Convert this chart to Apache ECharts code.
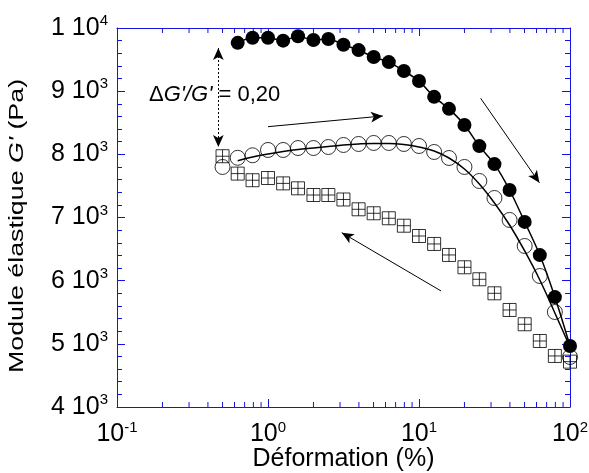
<!DOCTYPE html>
<html>
<head>
<meta charset="utf-8">
<script src="https://cdn.jsdelivr.net/npm/echarts@6/dist/echarts.min.js"></script>
<style>
  html, body { margin: 0; padding: 0; background: #fff; }
  #chart { width: 589px; height: 473px; }
</style>
</head>
<body>
<div id="chart"></div>
<script>
    'use strict';

    var BLUE = '#1414e0';
    var FONT = 'Liberation Sans';

    // déformation (%) - cercles pleins (aller, 1er balayage)
    var filledX = [0.63, 0.79, 1.0, 1.26, 1.58, 2.0, 2.51, 3.16, 3.98, 5.01, 6.31, 7.94, 10, 12.6, 15.8, 20, 25.1, 31.6, 39.8, 50.1, 63.1, 79.4, 100];
    var filledY = [9765, 9845, 9845, 9800, 9870, 9810, 9825, 9735, 9650, 9540, 9460, 9320, 9160, 8910, 8720, 8465, 8130, 7845, 7435, 6930, 6405, 5740, 4965];

    // cercles vides
    var openX = [0.5, 0.63, 0.79, 1.0, 1.26, 1.58, 2.0, 2.51, 3.16, 3.98, 5.01, 6.31, 7.94, 10, 12.6, 15.8, 20, 25.1, 31.6, 39.8, 50.1, 63.1, 79.4, 100];
    var openY = [7800, 7945, 7985, 8069, 8069, 8100, 8100, 8116, 8148, 8164, 8180, 8180, 8164, 8132, 8037, 7942, 7800, 7578, 7309, 6961, 6549, 6074, 5504, 4792];

    // courbe lissée des cercles vides
    var fitX = [0.63, 0.79, 1.0, 1.26, 1.58, 2.0, 2.51, 3.16, 3.98, 5.01, 6.31, 7.94, 10, 12.6, 15.8, 20, 25.1, 31.6, 39.8, 50.1, 63.1, 79.4, 100];
    var fitY = [7899, 7958, 8005, 8045, 8077, 8100, 8124, 8148, 8164, 8172, 8172, 8156, 8116, 8053, 7942, 7768, 7530, 7230, 6881, 6470, 6011, 5489, 4950];

    // carrés (retour)
    var squareX = [0.5, 0.63, 0.79, 1.0, 1.26, 1.58, 2.0, 2.51, 3.16, 3.98, 5.01, 6.31, 7.94, 10, 12.6, 15.8, 20, 25.1, 31.6, 39.8, 50.1, 63.1, 79.4, 100];
    var squareY = [7970, 7695, 7590, 7625, 7540, 7462, 7356, 7356, 7285, 7130, 7067, 6988, 6870, 6707, 6581, 6407, 6212, 6022, 5800, 5536, 5310, 5045, 4808, 4718];

    var xTicks = [0.1, 1, 10, 100];

    function zip(xs, ys) {
        return xs.map(function (x, i) { return [x, ys[i]]; });
    }

    // graduations secondaires log (2..9 par décade)
    var minorLog = [];
    for (var d = 0; d < xTicks.length - 1; d++) {
        for (var k = 2; k <= 9; k++) {
            minorLog.push([xTicks[d] * k, 4000]);
        }
    }

    var supRich = {
        b: { fontFamily: FONT, fontSize: 25, color: '#000' },
        s: { fontFamily: FONT, fontSize: 15, color: '#000', padding: [0, 0, 14, 0] }
    };

    var crossSquare = 'path://M0,0L10,0L10,10L0,10Z M5,0L5,10 M0,5L10,5';

    var chart = echarts.init(document.getElementById('chart'), null, { renderer: 'canvas' });

    var option = {
        animation: false,
        backgroundColor: '#fff',
        grid: { left: 117, right: 19, top: 28, bottom: 66, containLabel: false, outerBoundsMode: 'none' },
        xAxis: [{
            type: 'log',
            logBase: 10,
            min: 0.1,
            max: 100,
            position: 'bottom',
            name: 'Déformation (%)',
            nameLocation: 'middle',
            nameGap: 40,
            nameMoveOverlap: false,
            nameTextStyle: { fontFamily: FONT, fontSize: 25, color: '#000' },
            axisLine: { show: true, lineStyle: { color: BLUE, width: 1 } },
            axisTick: { show: true, inside: true, length: 8, lineStyle: { color: BLUE } },
            splitLine: { show: false },
            axisLabel: {
                margin: 13,
                formatter: function (v) {
                    var e = Math.round(Math.log10(v));
                    return '{b|10}{s|' + e + '}';
                },
                rich: supRich
            }
        }, {
            type: 'log',
            logBase: 10,
            min: 0.1,
            max: 100,
            position: 'top',
            axisLine: { show: true, lineStyle: { color: BLUE, width: 1 } },
            axisTick: { show: true, inside: true, length: 8, lineStyle: { color: BLUE } },
            axisLabel: { show: false },
            splitLine: { show: false }
        }],
        yAxis: [{
            type: 'value',
            min: 4000,
            max: 10000,
            interval: 1000,
            position: 'left',
            axisLine: { show: true, lineStyle: { color: BLUE, width: 1 } },
            axisTick: { show: true, inside: true, length: 8, lineStyle: { color: BLUE } },
            minorTick: { show: true, splitNumber: 5, length: 5, lineStyle: { color: BLUE } },
            splitLine: { show: false },
            axisLabel: {
                margin: 9,
                formatter: function (v) {
                    if (v >= 10000) return '{b|' + (v / 10000) + ' 10}{s|4}';
                    return '{b|' + (v / 1000) + ' 10}{s|3}';
                },
                rich: supRich
            }
        }, {
            type: 'value',
            min: 4000,
            max: 10000,
            interval: 1000,
            position: 'right',
            axisLine: { show: true, lineStyle: { color: BLUE, width: 1 } },
            axisTick: { show: true, inside: true, length: 8, lineStyle: { color: BLUE } },
            minorTick: { show: true, splitNumber: 5, length: 5, lineStyle: { color: BLUE } },
            axisLabel: { show: false },
            splitLine: { show: false }
        }],
        graphic: [{
            // titre de l'axe Y (texte étiré comme dans l'original)
            type: 'text',
            x: 17,
            y: 226,
            rotation: Math.PI / 2,
            scaleX: 1.34,
            style: {
                text: "{n|Module élastique }{i|G'}{n| (Pa)}",
                align: 'center',
                verticalAlign: 'middle',
                rich: {
                    n: { fontFamily: FONT, fontSize: 20, fill: '#000' },
                    i: { fontFamily: FONT, fontSize: 20, fontStyle: 'italic', fill: '#000' }
                }
            }
        }, {
            type: 'text',
            x: 149,
            y: 95,
            style: {
                text: "{n|Δ}{i|G'/G'}{n| = 0,20}",
                verticalAlign: 'middle',
                rich: {
                    n: { fontFamily: FONT, fontSize: 22, fill: '#000' },
                    i: { fontFamily: FONT, fontSize: 22, fontStyle: 'italic', fill: '#000' }
                }
            }
        }],
        series: [{
            // graduations mineures du log, bas et haut
            type: 'custom',
            silent: true,
            xAxisIndex: 0,
            yAxisIndex: 0,
            data: minorLog,
            renderItem: function (params, api) {
                var v = api.value(0);
                var b = api.coord([v, 4000]);
                var t = api.coord([v, 10000]);
                return {
                    type: 'group',
                    children: [{
                        type: 'line',
                        shape: { x1: b[0], y1: b[1], x2: b[0], y2: b[1] - 5 },
                        style: { stroke: BLUE, lineWidth: 1 }
                    }, {
                        type: 'line',
                        shape: { x1: t[0], y1: t[1], x2: t[0], y2: t[1] + 5 },
                        style: { stroke: BLUE, lineWidth: 1 }
                    }]
                };
            }
        }, {
            name: 'fit',
            type: 'line',
            data: zip(fitX, fitY),
            symbol: 'none',
            smooth: 0.4,
            silent: true,
            lineStyle: { color: '#000', width: 1.5 }
        }, {
            name: 'open',
            type: 'scatter',
            data: zip(openX, openY),
            symbol: 'circle',
            symbolSize: 15,
            itemStyle: { color: 'rgba(0,0,0,0)', borderColor: '#000', borderWidth: 1 }
        }, {
            name: 'square',
            type: 'scatter',
            data: zip(squareX, squareY),
            symbol: crossSquare,
            symbolSize: 13,
            itemStyle: { color: 'rgba(0,0,0,0)', borderColor: '#000', borderWidth: 1 }
        }, {
            name: 'filled',
            type: 'line',
            data: zip(filledX, filledY),
            symbol: 'circle',
            symbolSize: 14,
            showAllSymbol: true,
            smooth: 0.3,
            itemStyle: { color: '#000' },
            lineStyle: { color: '#000', width: 1.5 },
            markLine: {
                silent: true,
                animation: false,
                label: { show: false },
                symbolSize: [8, 12],
                lineStyle: { color: '#000', width: 1, type: 'solid' },
                data: [
                    [{ coord: [1.0, 8438], symbol: 'none' }, { coord: [5.76, 8607], symbol: 'arrow' }],
                    [{ coord: [25.6, 8887], symbol: 'none' }, { coord: [62.7, 7551], symbol: 'arrow' }],
                    [{ coord: [14.0, 5837], symbol: 'none' }, { coord: [3.08, 6760], symbol: 'arrow' }],
                    [{ coord: [0.469, 9683], symbol: 'arrow', lineStyle: { type: [2, 2] } },
                     { coord: [0.469, 8116], symbol: 'arrow' }]
                ]
            }
        }]
    };

    chart.setOption(option);
</script>
</body>
</html>
